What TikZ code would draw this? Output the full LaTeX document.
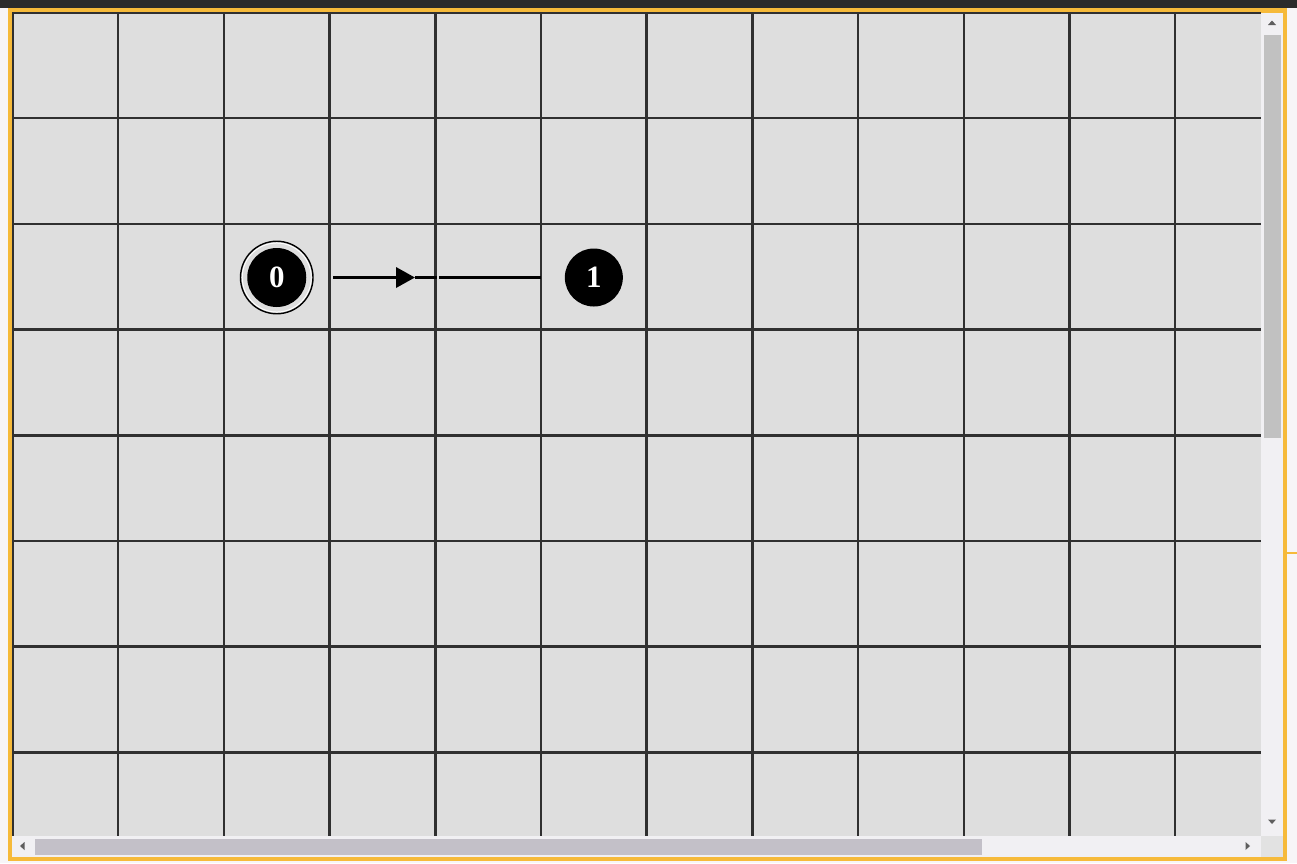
\documentclass[tikz,border=0pt]{standalone}
\usepackage{fontspec}
\setmainfont{Liberation Serif}
\usetikzlibrary{arrows.meta}
\definecolor{bgc}{HTML}{DEDEDE}
\definecolor{gridc}{HTML}{303030}
\definecolor{topbar}{HTML}{2B2B2B}
\definecolor{framec}{HTML}{F6BA3A}
\definecolor{trackc}{HTML}{F1F0F3}
\definecolor{cornerc}{HTML}{E2E2E2}
\definecolor{thumbv}{HTML}{C1C1C1}
\definecolor{thumbh}{HTML}{C3C0C8}
\definecolor{outsidec}{HTML}{F7F5F7}
\definecolor{glyphc}{HTML}{5E5E5E}
\begin{document}
\begin{tikzpicture}[x=1pt,y=-1pt,
  gridline/.style={draw=gridc,line width=2.5pt},
  state/.style={circle,fill=black,minimum size=58pt,inner sep=0pt,text=white,
    font=\bfseries\fontsize{31}{31}\selectfont},
  acceptstate/.style={circle,draw=black,line width=1.4pt,minimum size=72.5pt,inner sep=0pt,
    text=white,font=\bfseries\fontsize{31}{31}\selectfont,
    path picture={
      \draw[white,line width=0.9pt] (path picture bounding box.center) circle[radius=34.5pt];
      \fill[black] (path picture bounding box.center) circle[radius=29.5pt];}},
  edgeline/.style={draw=black,line width=3.5pt},
  glyph/.style={fill=glyphc}
]
\useasboundingbox (0,0) rectangle (1297,863);
% window chrome
\fill[outsidec] (0,0) rectangle (1297,863);
\fill[topbar] (0,0) rectangle (1297,8);
\fill[framec] (8,8) rectangle (1287,861);
\fill[framec] (1287,552.3) rectangle (1297,553.6);
% canvas
\fill[bgc] (12,12.5) rectangle (1261,836);
\begin{scope}
  \clip (12,12) rectangle (1261,836);
  \foreach \i in {0,...,11}
    \draw[gridline] ({12.5+105.7*\i},12) -- ({12.5+105.7*\i},836);
  \foreach \j in {0,...,7}
    \draw[gridline] (12,{12.5+105.7*\j}) -- (1261,{12.5+105.7*\j});
\end{scope}
% scrollbars
\fill[trackc] (1261,12.5) rectangle (1283,836);
\fill[trackc] (12,836) rectangle (1283,857);
\fill[cornerc] (1261,836) rectangle (1283,857);
\fill[thumbv] (1264,35) rectangle (1281,438);
\fill[thumbh] (35,839) rectangle (982,855);
\fill[glyph] (1268,25) -- (1276,25) -- (1272,20.5) -- cycle;
\fill[glyph] (1268,819.5) -- (1276,819.5) -- (1272,824) -- cycle;
\fill[glyph] (24.5,842) -- (24.5,850) -- (20,846) -- cycle;
\fill[glyph] (1245.5,842) -- (1245.5,850) -- (1250,846) -- cycle;
% automaton
\node[acceptstate] (n0) at (276.75,277.5) {0};
\node[state] (n1) at (593.85,277.5) {1};
\coordinate (tip) at (415,277.5);
\coordinate (gapL) at (436.6,277.5);
\coordinate (gapR) at (439,277.5);
\draw[edgeline,-{Triangle[length=19pt,width=20pt]},shorten <=19.4pt] (n0) -- (tip);
\draw[edgeline] (tip) -- (gapL);
\draw[edgeline,shorten >=23.85pt] (gapR) -- (n1);
\end{tikzpicture}
\end{document}
